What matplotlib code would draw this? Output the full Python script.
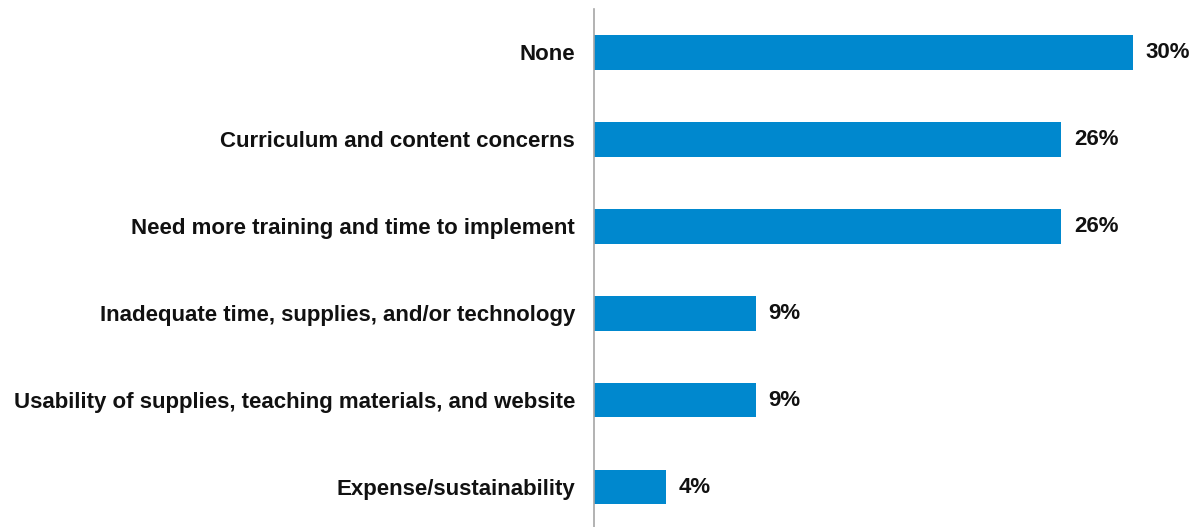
import matplotlib.pyplot as plt

categories = ['None',
              'Curriculum and content concerns',
              'Need more training and time to implement',
              'Inadequate time, supplies, and/or technology',
              'Usability of supplies, teaching materials, and website',
              'Expense/sustainability']
values = [30, 26, 26, 9, 9, 4]

plt.rcParams['font.family'] = ['Liberation Sans', 'DejaVu Sans']

W, H = 1196, 527
fig = plt.figure(figsize=(W / 100, H / 100), dpi=100)
ax = fig.add_axes([594 / W, 0, (W - 594) / W, (H - 9) / H])

pos = list(range(len(categories)))
ax.barh(pos, values, height=0.4, color='#0088CE')
for p, v in zip(pos, values):
    ax.text(v + 0.7, p, f'{v}%', va='center', ha='left',
            fontsize=16, fontweight='bold', color='#111111')

ax.set_yticks(pos)
ax.set_yticklabels(categories, fontsize=16, fontweight='bold', color='#111111')
ax.tick_params(axis='y', length=0, pad=13.7)
ax.set_ylim(5.46, -0.5)
ax.set_xlim(0, (W - 594) / 17.97)
ax.set_xticks([])

for s in ['top', 'right', 'bottom']:
    ax.spines[s].set_visible(False)
ax.spines['left'].set_color('#A6A6A6')
ax.spines['left'].set_linewidth(1.2)

fig.savefig('out.png', dpi=100)
